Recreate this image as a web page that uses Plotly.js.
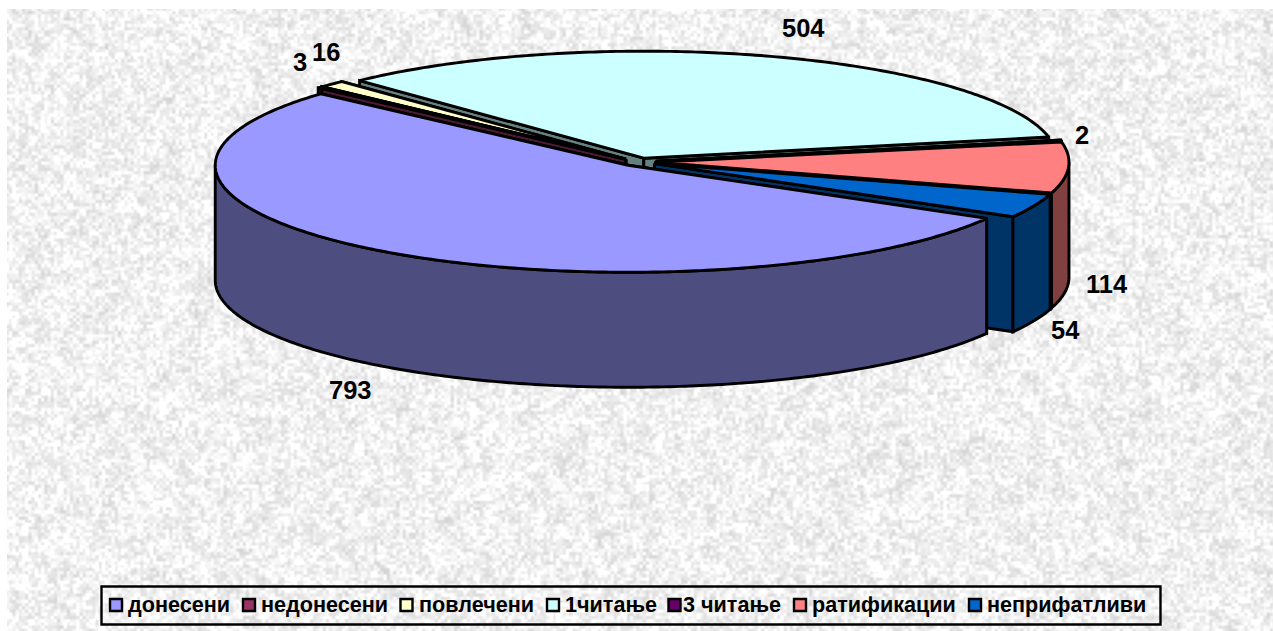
<!DOCTYPE html>
<html>
<head>
<meta charset="utf-8">
<script src="https://cdn.plot.ly/plotly-3.0.1.min.js"></script>
<style>html,body{margin:0;padding:0;background:#fff;overflow:hidden}#chart{width:1273px;height:631px}</style>
</head>
<body>
<div id="chart"></div>
<script>
// ---- data ----
var categories = ['донесени','недонесени','повлечени','1читање','3 читање','ратификации','неприфатливи'];
var values = [793, 3, 16, 504, 2, 114, 54];

// ---- styles ----
var topColors  = ['#9999FF','#993366','#FFFFCC','#CCFFFF','#660066','#FF8080','#0066CC'];
var wallColors = ['#4D4D80','#4D1A33','#808066','#668080','#330033','#804040','#003366'];
var paintOrder = [3, 4, 2, 1, 5, 6, 0];   // back to front
var legendSwatchX = [116, 249, 406.5, 553, 674.5, 800, 975];
var legendTextGap = [11, 11, 11, 11, 7, 11, 11];
var labelShift = [[-36,138],[-20,-25],[-6,-32],[35,-28],[21,-6],[39,116],[31,124]];

// ---- pie geometry on a plot coordinate system ----
var W = 1273, H = 631;
var cx = 638.5, cy = 162, rx = 413, ry = 107, depth = 115;
var explodeX = 17.5, explodeY = 4, startAngle = 29.8;

var total = values.reduce(function(s,v){return s+v;},0);
var slices = [], acc = startAngle;
values.forEach(function(v,i){
  var span = v/total*360, mid = (acc+span/2)*Math.PI/180;
  slices.push({i:i, a0:acc, a1:acc+span,
    ox:cx+explodeX*Math.cos(mid), oy:cy+explodeY*Math.sin(mid),
    mid:mid});
  acc += span;
});
function edge(s,deg){var t=deg*Math.PI/180;return [s.ox+rx*Math.cos(t), s.oy+ry*Math.sin(t)];}
function arc(s,a0,a1){
  var pts=[], n=Math.max(2,Math.ceil((a1-a0)/0.75));
  for(var k=0;k<=n;k++){pts.push(edge(s,a0+(a1-a0)*k/n));}
  return pts;
}
function poly(pts,fill){
  var xs=pts.map(function(p){return p[0];}), ys=pts.map(function(p){return p[1];});
  xs.push(xs[0]); ys.push(ys[0]);
  return {type:'scatter',mode:'lines',x:xs,y:ys,fill:'toself',fillcolor:fill,
    line:{color:'#000',width:2.9,shape:'linear',simplify:false},hoverinfo:'skip',showlegend:false};
}
function radialWall(s,deg,fill){
  var e=edge(s,deg);
  return poly([[s.ox,s.oy],e,[e[0],e[1]+depth],[s.ox,s.oy+depth]],fill);
}
var traces=[];
paintOrder.forEach(function(idx){
  var s=slices[idx], wall=wallColors[idx];
  traces.push(radialWall(s,s.a0,wall));
  traces.push(radialWall(s,s.a1,wall));
  // visible part of the rim: the front half of the ellipse
  [[0,180],[360,540]].forEach(function(win){
    var a=Math.max(s.a0,win[0]), b=Math.min(s.a1,win[1]);
    if(b>a){
      var top=arc(s,a,b);
      var low=top.slice().reverse().map(function(p){return [p[0],p[1]+depth];});
      traces.push(poly(top.concat(low),wall));
    }
  });
  traces.push(poly([[s.ox,s.oy]].concat(arc(s,s.a0,s.a1)),topColors[idx]));
});

// legend swatches
var legendY = 605;
categories.forEach(function(c,i){
  traces.push({type:'scatter',mode:'markers',x:[legendSwatchX[i]],y:[legendY],name:c,
    marker:{symbol:'square',size:12,color:topColors[i],line:{color:'#000',width:2.4}},
    hoverinfo:'name',showlegend:false,cliponaxis:false});
});

// value labels, anchored on each slice's rim
var annotations = slices.map(function(s){
  var e=[s.ox+rx*Math.cos(s.mid), s.oy+ry*Math.sin(s.mid)], sh=labelShift[s.i];
  return {x:e[0]+sh[0],y:e[1]+sh[1],xref:'x',yref:'y',text:'<b>'+values[s.i]+'</b>',showarrow:false,
    xanchor:'center',yanchor:'middle',
    font:{family:'"Liberation Sans",Arial,sans-serif',size:25.5,color:'#000'}};
});
// legend texts
categories.forEach(function(c,i){
  annotations.push({x:legendSwatchX[i]+legendTextGap[i],y:legendY-0.5,xref:'x',yref:'y',text:'<b>'+c+'</b>',showarrow:false,
    xanchor:'left',yanchor:'middle',xshift:-1,
    font:{family:'"Liberation Sans",Arial,sans-serif',size:21.6,color:'#000'}});
});

// mottled granite backdrop (a deterministic pattern, not chart data)
function textureURL(){
  var tw=W-7, th=H-9, c=document.createElement('canvas');
  c.width=tw;c.height=th;
  var g=c.getContext('2d'), im=g.createImageData(tw,th), d=im.data;
  function h(x,y,s){var t=Math.sin(x*127.1+y*311.7+s*74.7)*43758.5453;return t-Math.floor(t);}
  function sm(t){return t*t*(3-2*t);}
  function vn(x,y,s){
    var xi=Math.floor(x),yi=Math.floor(y),u=sm(x-xi),v=sm(y-yi);
    return (h(xi,yi,s)*(1-u)+h(xi+1,yi,s)*u)*(1-v)+(h(xi,yi+1,s)*(1-u)+h(xi+1,yi+1,s)*u)*v;
  }
  for(var y=0;y<th;y++){for(var x=0;x<tw;x++){
    var n=0.6*vn(x/3.2,y/3.2,1)+0.28*vn(x/7.5,y/7.5,2)+0.12*vn(x/18,y/18,3);
    var val=Math.max(198,Math.min(255,241+(n-0.5)*68));
    var p=(y*tw+x)*4;d[p]=d[p+1]=d[p+2]=val;d[p+3]=255;
  }}
  g.putImageData(im,0,0);
  return c.toDataURL('image/png');
}

var layout = {
  width:W,height:H,margin:{l:0,r:0,t:0,b:0},showlegend:false,
  paper_bgcolor:'#fff',plot_bgcolor:'rgba(0,0,0,0)',
  xaxis:{range:[0,W],visible:false,fixedrange:true},
  yaxis:{range:[H,0],visible:false,fixedrange:true},
  images:[{source:textureURL(),xref:'x',yref:'y',x:7,y:9,sizex:W-7,sizey:H-9,sizing:'stretch',
    xanchor:'left',yanchor:'top',layer:'below'}],
  shapes:[{type:'rect',xref:'x',yref:'y',x0:101.5,x1:1160.5,y0:586.5,y1:624.5,
    line:{color:'#000',width:2.4},fillcolor:'rgba(0,0,0,0)',layer:'above'}],
  annotations:annotations
};
Plotly.newPlot('chart',traces,layout,{displayModeBar:false,staticPlot:true});
</script>
</body>
</html>
